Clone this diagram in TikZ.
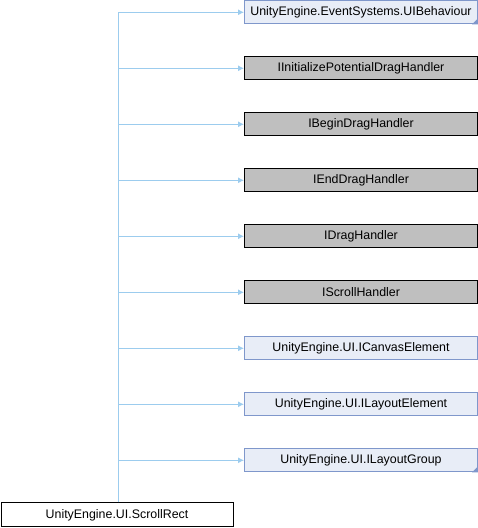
\documentclass[tikz,border=0pt]{standalone}
\usepackage{fontspec}
\setmainfont{Liberation Sans}
\usetikzlibrary{arrows.meta}
\definecolor{edgeblue}{HTML}{9CCCEE}
\definecolor{extfill}{HTML}{E8EDF7}
\definecolor{extdraw}{HTML}{7F97CB}
\definecolor{ifill}{HTML}{BFBFBF}
\tikzset{
  x=0.75pt, y=-0.75pt,
  box/.style={draw, line width=0.75pt, minimum width=174.75pt, minimum height=17.25pt,
    inner sep=0pt, font=\fontsize{9.3pt}{11pt}\selectfont, anchor=west},
  extbox/.style={box, fill=extfill, draw=extdraw},
  ifbox/.style={box, fill=ifill, draw=black},
  leafbox/.style={box, fill=white, draw=black},
  inh/.style={draw=edgeblue, line width=0.75pt, -{Latex[length=4.5pt,width=4.5pt]}},
  trunk/.style={draw=edgeblue, line width=0.75pt},
  fold/.style={fill=extdraw, draw=none}
}
\begin{document}
\begin{tikzpicture}
\useasboundingbox (0,0) rectangle (478,528);
% base classes and interfaces, one per row
\node[extbox] (b1) at (244,12.3) {UnityEngine.EventSystems.UIBehaviour};
\node[ifbox]  (b2) at (244,68.3) {IInitializePotentialDragHandler};
\node[ifbox]  (b3) at (244,124.3) {IBeginDragHandler};
\node[ifbox]  (b4) at (244,180.3) {IEndDragHandler};
\node[ifbox]  (b5) at (244,236.3) {IDragHandler};
\node[ifbox]  (b6) at (244,292.3) {IScrollHandler};
\node[extbox] (b7) at (244,348.3) {UnityEngine.UI.ICanvasElement};
\node[extbox] (b8) at (244,404.3) {UnityEngine.UI.ILayoutElement};
\node[extbox] (b9) at (244,460.3) {UnityEngine.UI.ILayoutGroup};
% derived class
\node[leafbox, minimum width=174pt, minimum height=18pt] (sr) at (0.5,514.8) {UnityEngine.UI.ScrollRect};
% folded corners on boxes with hidden bases
\fill[fold] (b1.south east) -- ++(0,-6) -- ++(-6,6) -- cycle;
\fill[fold] (b9.south east) -- ++(0,-6) -- ++(-6,6) -- cycle;
% inheritance edges
\coordinate (t) at (118,12.3);
\draw[trunk] (sr.north -| t) -- (t);
\foreach \n in {b1,b2,b3,b4,b5,b6,b7,b8,b9}
  \draw[inh] (t |- \n.west) -- (\n.west);
\end{tikzpicture}
\end{document}
